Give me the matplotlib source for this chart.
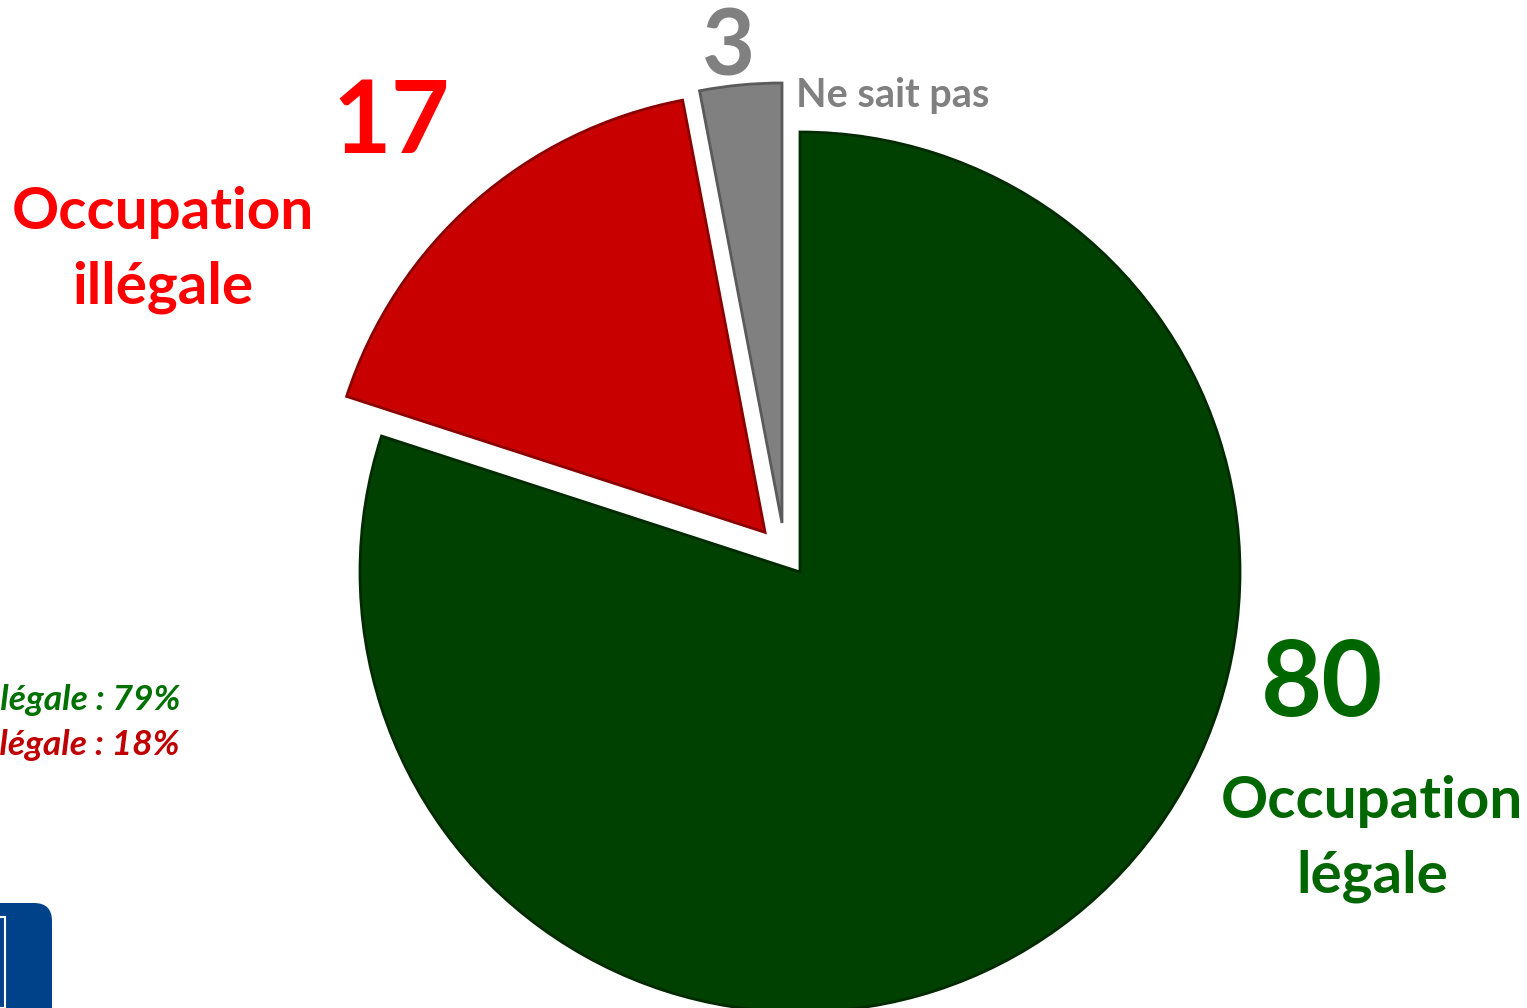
import matplotlib
matplotlib.use("Agg")
import matplotlib.pyplot as plt
from matplotlib.patches import FancyBboxPatch, Rectangle

categories = ["Occupation légale", "Occupation illégale", "Ne sait pas"]
values = [80, 17, 3]
colors = ["#004000", "#C80000", "#808080"]
edge_colors = ["#002A00", "#8A0000", "#5A5A5A"]
explode_frac = [0.0, 0.12, 0.12]
side_notes = ["Occupation légale : 79%", "Occupation illégale : 18%"]

W, H = 1527, 1008
fig = plt.figure(figsize=(W / 100, H / 100), dpi=100)
ax = fig.add_axes([0, 0, 1, 1])

cx, cy, R = 800, H - 572, 440
wedges, _ = ax.pie(values, colors=colors, explode=[e * R for e in explode_frac],
                   startangle=90, counterclock=False, radius=R, center=(cx, cy),
                   wedgeprops=dict(linewidth=2))
for w, ec in zip(wedges, edge_colors):
    w.set_edgecolor(ec)
# gray slice apex as in the reference
wedges[2].set_center((782, H - 523))

ax.set_xlim(0, W)
ax.set_ylim(0, H)
ax.set_aspect("auto")
ax.axis("off")

F = "Lato"
def T(x, y, s, size, color, ha="center", style="normal", ls=1.2):
    ax.text(x, H - y, s, fontsize=size, color=color, ha=ha, va="center",
            fontweight="bold", family=F, style=style, linespacing=ls)

T(391, 124, str(values[1]), 73, "#FF0000")
T(163, 250, "Occupation\nillégale", 42, "#FF0000", ls=1.5)
T(1322, 686, str(values[0]), 76, "#006600")
T(1372, 839, "Occupation\nlégale", 42, "#006600", ls=1.5)
T(728, 50, str(values[2]), 66, "#808080")
T(893, 95, categories[2], 28.5, "#808080")

T(180, 700, side_notes[0], 25.5, "#007000", ha="right", style="italic")
T(180, 745, side_notes[1], 25.5, "#C00000", ha="right", style="italic")

# partial logo at bottom-left
logo = FancyBboxPatch((-60, -60), 112, H - 903 + 60, boxstyle="round,pad=0,rounding_size=18",
                      facecolor="#00428A", edgecolor="none", transform=ax.transData,
                      clip_on=False)
ax.add_patch(logo)
ax.add_patch(Rectangle((-10, 0), 15, H - 917, facecolor="none", edgecolor="white",
                       linewidth=1.5))

fig.savefig("out.png", dpi=100)
